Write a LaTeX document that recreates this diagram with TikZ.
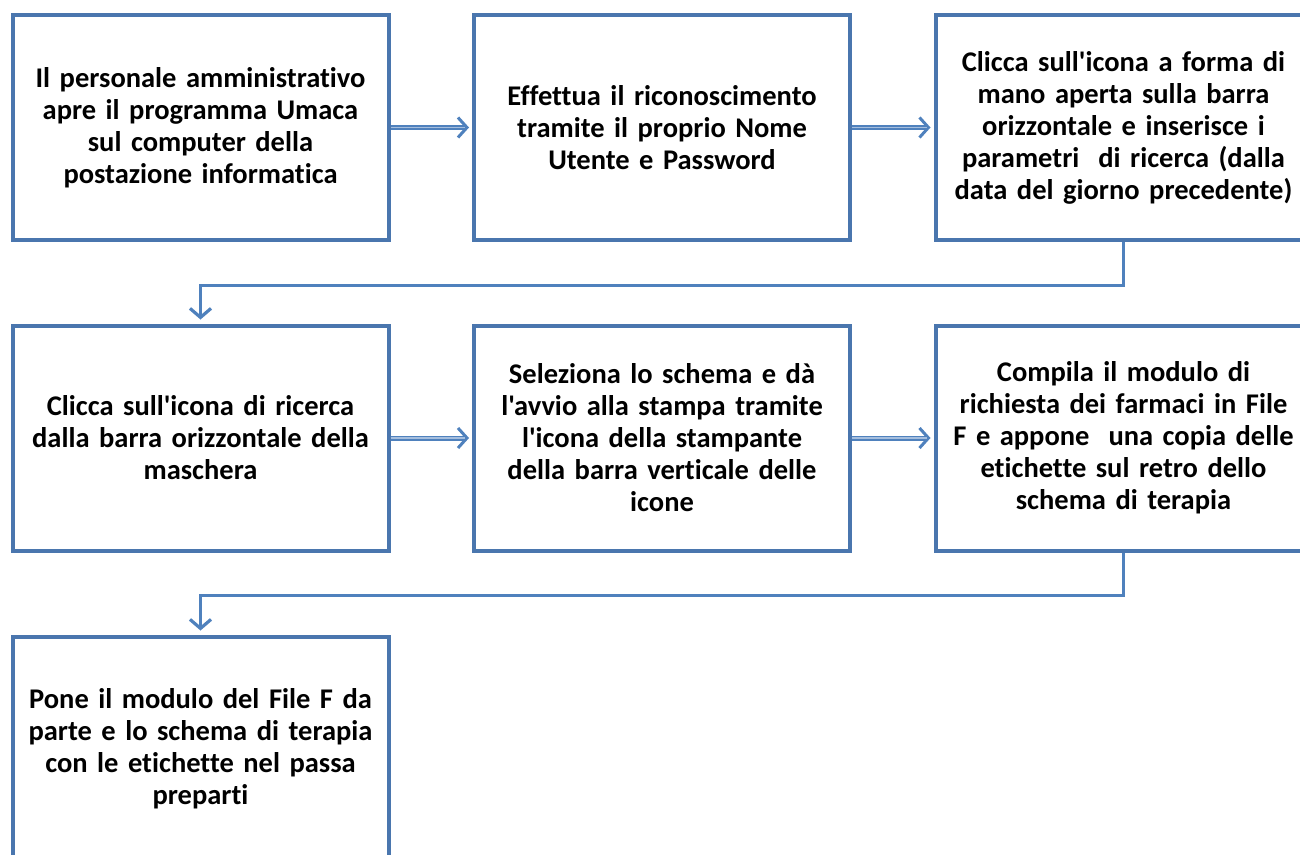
\documentclass[tikz,border=0pt]{standalone}
\usepackage{fontspec}
\setmainfont{Carlito}[Ligatures={TeXOff,NoCommon}]
\usetikzlibrary{arrows.meta}
\definecolor{boxblue}{RGB}{74,118,174}
\definecolor{arrblue}{RGB}{79,129,189}
\definecolor{arrlight}{RGB}{165,190,222}
\begin{document}
\begin{tikzpicture}[x=1pt,y=-1pt,
  stepbox/.style={draw=boxblue,line width=4pt,minimum width=376pt,minimum height=225pt,
    inner sep=0pt,text width=372pt,align=center,
    font=\fontsize{28.5}{32}\selectfont\bfseries},
  hconn/.style={draw=arrblue,line width=5pt,shorten >=3pt,
    -{Straight Barb[length=9pt,width=20pt,line width=3pt]},
    postaction={draw=arrlight,line width=1.8pt,shorten >=7pt,-}},
  vconn/.style={draw=arrblue,line width=3pt,shorten >=4pt,
    -{Straight Barb[length=9pt,width=21pt,line width=3.2pt]}}]
\clip (0,0) rectangle (1300,854);
\node[stepbox] (b1) at (200.5,127.5) {Il personale amministrativo\\apre il programma Umaca\\sul computer della\\postazione informatica};
\node[stepbox] (b2) at (662,127.5) {Effettua il riconoscimento\\tramite il proprio Nome\\Utente e Password};
\node[stepbox] (b3) at (1123.5,127.5) {Clicca sull'icona a forma di\\mano aperta sulla barra\\orizzontale e inserisce i\\parametri\ \ di ricerca (dalla\\data del giorno precedente)};
\node[stepbox] (b4) at (200.5,438) {Clicca sull'icona di ricerca\\dalla barra orizzontale della\\maschera};
\node[stepbox] (b5) at (662,438) {Seleziona lo schema e dà\\l'avvio alla stampa tramite\\l'icona della stampante\\della barra verticale delle\\icone};
\node[stepbox] (b6) at (1123.5,438) {Compila il modulo di\\richiesta dei farmaci in File\\F e appone\ \ una copia delle\\etichette sul retro dello\\schema di terapia};
\node[stepbox] (b7) at (200.5,749) {Pone il modulo del File F da\\parte e lo schema di terapia\\con le etichette nel passa\\preparti};
\draw[hconn] (b1.east) -- (b2.west);
\draw[hconn] (b2.east) -- (b3.west);
\draw[hconn] (b4.east) -- (b5.west);
\draw[hconn] (b5.east) -- (b6.west);
\draw[vconn] (b3.south) -- ++(0,43) -| (b4.north);
\draw[vconn] (b6.south) -- ++(0,43) -| (b7.north);
\end{tikzpicture}
\end{document}
